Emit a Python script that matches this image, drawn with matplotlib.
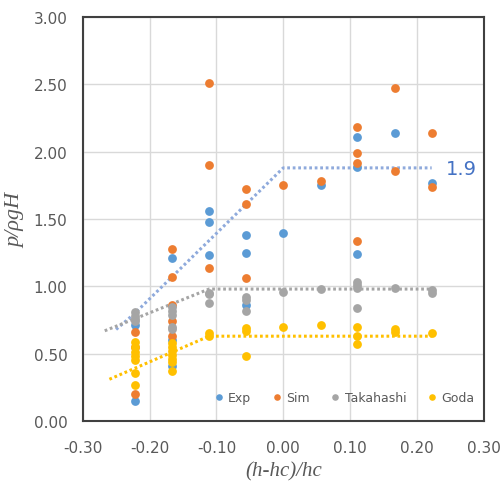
import matplotlib
matplotlib.use("Agg")
import matplotlib.pyplot as plt
from matplotlib.ticker import FormatStrFormatter, MultipleLocator

plt.rcParams['axes.unicode_minus'] = False

# Exp
exp_x = [-0.222, -0.222, -0.167, -0.167, -0.167, -0.111, -0.111, -0.111,
         -0.056, -0.056, -0.056, 0.0, 0.056, 0.111, 0.111, 0.111, 0.167, 0.222]
exp_y = [0.15, 0.71, 1.21, 0.60, 0.41, 1.56, 1.48, 1.23,
         1.38, 1.25, 0.86, 1.40, 1.75, 2.11, 1.89, 1.24, 2.14, 1.77]

# Sim
sim_x = [-0.222, -0.222, -0.222, -0.167, -0.167, -0.167, -0.167, -0.167,
         -0.111, -0.111, -0.111, -0.056, -0.056, -0.056, 0.0, 0.056,
         0.111, 0.111, 0.111, 0.111, 0.167, 0.167, 0.222, 0.222]
sim_y = [0.20, 0.55, 0.66, 1.28, 1.07, 0.86, 0.74, 0.63,
         2.51, 1.90, 1.14, 1.72, 1.61, 1.06, 1.75, 1.78,
         2.18, 1.99, 1.92, 1.34, 2.47, 1.86, 2.14, 1.74]

# Takahashi
tak_x = [-0.222, -0.222, -0.222, -0.222, -0.167, -0.167, -0.167, -0.167, -0.167,
         -0.111, -0.111, -0.111, -0.056, -0.056, -0.056, 0.0, 0.056,
         0.111, 0.111, 0.111, 0.111, 0.167, 0.222, 0.222]
tak_y = [0.81, 0.78, 0.76, 0.74, 0.85, 0.82, 0.79, 0.70, 0.68,
         0.95, 0.94, 0.88, 0.92, 0.90, 0.82, 0.96, 0.98,
         1.03, 1.01, 0.99, 0.84, 0.99, 0.97, 0.95]

# Goda
goda_x = [-0.222] * 7 + [-0.167] * 7 + [-0.111, -0.111, -0.056, -0.056, -0.056,
          0.0, 0.056, 0.111, 0.111, 0.111, 0.167, 0.167, 0.222]
goda_y = [0.59, 0.55, 0.51, 0.48, 0.45, 0.36, 0.27,
          0.58, 0.55, 0.52, 0.49, 0.46, 0.44, 0.37,
          0.65, 0.63, 0.69, 0.67, 0.48,
          0.70, 0.71, 0.70, 0.63, 0.57, 0.68, 0.66, 0.65]

# dotted envelope lines
blue_lx = [-0.25, -0.222, 0.0, 0.222]
blue_ly = [0.68, 0.80, 1.88, 1.88]
gray_lx = [-0.267, -0.111, 0.222]
gray_ly = [0.67, 0.98, 0.98]
gold_lx = [-0.26, -0.111, 0.222]
gold_ly = [0.31, 0.63, 0.63]

c_exp, c_sim, c_tak, c_goda = '#5B9BD5', '#ED7D31', '#A5A5A5', '#FFC000'

fig = plt.figure(figsize=(5.04, 4.89), dpi=100)
ax = fig.add_axes([0.164, 0.137, 0.796, 0.826])

ax.plot(blue_lx, blue_ly, color='#8FAADC', lw=2.2, dashes=(0.9, 0.9), zorder=2)
ax.plot(gray_lx, gray_ly, color=c_tak, lw=2.2, dashes=(0.9, 0.9), zorder=2)
ax.plot(gold_lx, gold_ly, color=c_goda, lw=2.2, dashes=(0.9, 0.9), zorder=2)

s = 40
ax.scatter(exp_x, exp_y, s=s, color=c_exp, label='Exp', zorder=3, linewidths=0)
ax.scatter(sim_x, sim_y, s=s, color=c_sim, label='Sim', zorder=3, linewidths=0)
ax.scatter(tak_x, tak_y, s=s, color=c_tak, label='Takahashi', zorder=3, linewidths=0)
ax.scatter(goda_x, goda_y, s=s, color=c_goda, label='Goda', zorder=3, linewidths=0)

ax.text(0.243, 1.875, '1.9', color='#4472C4', fontsize=14, va='center', ha='left')

ax.set_xlim(-0.30, 0.30)
ax.set_ylim(0, 3.0)
ax.xaxis.set_major_locator(MultipleLocator(0.1))
ax.yaxis.set_major_locator(MultipleLocator(0.5))
ax.xaxis.set_major_formatter(FormatStrFormatter('%.2f'))
ax.yaxis.set_major_formatter(FormatStrFormatter('%.2f'))
ax.tick_params(length=0, labelsize=11, labelcolor='#595959')
ax.tick_params(axis='x', pad=14)
ax.tick_params(axis='y', pad=11)
ax.grid(True, color='#D9D9D9', lw=1)
ax.set_axisbelow(True)
for sp in ax.spines.values():
    sp.set_color('#404040')
    sp.set_linewidth(1.5)

ax.set_xlabel('(h-hc)/hc', family='Liberation Serif', style='italic',
              fontsize=15, color='#595959', labelpad=4)
ax.set_ylabel('p/ρgH', family='Liberation Serif', style='italic',
              fontsize=16, color='#595959', labelpad=6)

ax.legend(loc='lower center', bbox_to_anchor=(0.646, 0.015), ncol=4, frameon=False,
          fontsize=9, handletextpad=0.0, columnspacing=1.3, markerscale=0.75,
          handlelength=1.5, labelcolor='#595959')

fig.savefig('out.png', dpi=100)
